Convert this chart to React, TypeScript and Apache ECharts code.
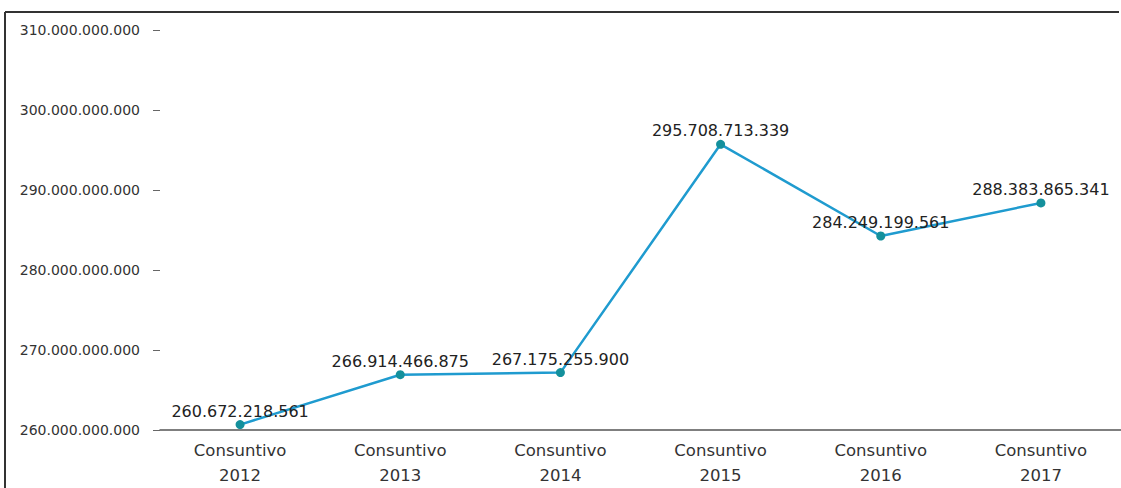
import React, { useEffect, useRef } from "react";
import * as echarts from "echarts";

const categories = [
  "Consuntivo\n2012",
  "Consuntivo\n2013",
  "Consuntivo\n2014",
  "Consuntivo\n2015",
  "Consuntivo\n2016",
  "Consuntivo\n2017",
];
const values = [
  260672218561, 266914466875, 267175255900, 295708713339, 284249199561,
  288383865341,
];
const yMin = 260000000000;
const yMax = 310000000000;
const yStep = 10000000000;

const fmt = (v: number) =>
  Math.round(v)
    .toString()
    .replace(/\B(?=(\d{3})+(?!\d))/g, ".");

const FONT = "DejaVu Sans";

export default function App() {
  const ref = useRef<HTMLDivElement>(null);
  useEffect(() => {
    if (!ref.current) return;
    const chart = echarts.init(ref.current, null, { renderer: "svg" });
    chart.setOption({
      animation: false,
      backgroundColor: "#ffffff",
      grid: { left: 160, right: 0, top: 30, bottom: 51 },
      graphic: [
        {
          type: "line",
          shape: { x1: 5, y1: 12, x2: 1119, y2: 12 },
          style: { stroke: "#333333", lineWidth: 2 },
          silent: true,
        },
        {
          type: "line",
          shape: { x1: 5, y1: 12, x2: 5, y2: 488 },
          style: { stroke: "#333333", lineWidth: 2 },
          silent: true,
        },
      ],
      xAxis: {
        type: "category",
        data: categories,
        boundaryGap: true,
        axisLine: { show: true, lineStyle: { color: "#555555", width: 1.5 } },
        axisTick: { show: false },
        axisLabel: {
          color: "#333333",
          fontFamily: FONT,
          fontSize: 16.5,
          lineHeight: 25,
          margin: 8,
          interval: 0,
        },
        splitLine: { show: false },
      },
      yAxis: {
        type: "value",
        min: yMin,
        max: yMax,
        interval: yStep,
        axisLine: { show: false },
        axisTick: {
          show: true,
          length: 7,
          lineStyle: { color: "#666666", width: 1 },
        },
        axisLabel: {
          color: "#333333",
          fontFamily: FONT,
          fontSize: 14,
          margin: 20,
          formatter: (v: number) => fmt(v),
        },
        splitLine: { show: false },
      },
      series: [
        {
          type: "line",
          data: values,
          symbol: "circle",
          symbolSize: 9,
          lineStyle: { color: "#1f9bcf", width: 2.5 },
          itemStyle: { color: "#14909c" },
          label: {
            show: true,
            position: "top",
            distance: 1,
            color: "#222222",
            fontFamily: FONT,
            fontSize: 16,
            formatter: (p: any) => fmt(p.value),
          },
        },
      ],
    });
    return () => chart.dispose();
  }, []);
  return (
    <div
      ref={ref}
      style={{ position: "absolute", left: 0, top: 0, width: 1121, height: 488, overflow: "hidden" }}
    />
  );
}
